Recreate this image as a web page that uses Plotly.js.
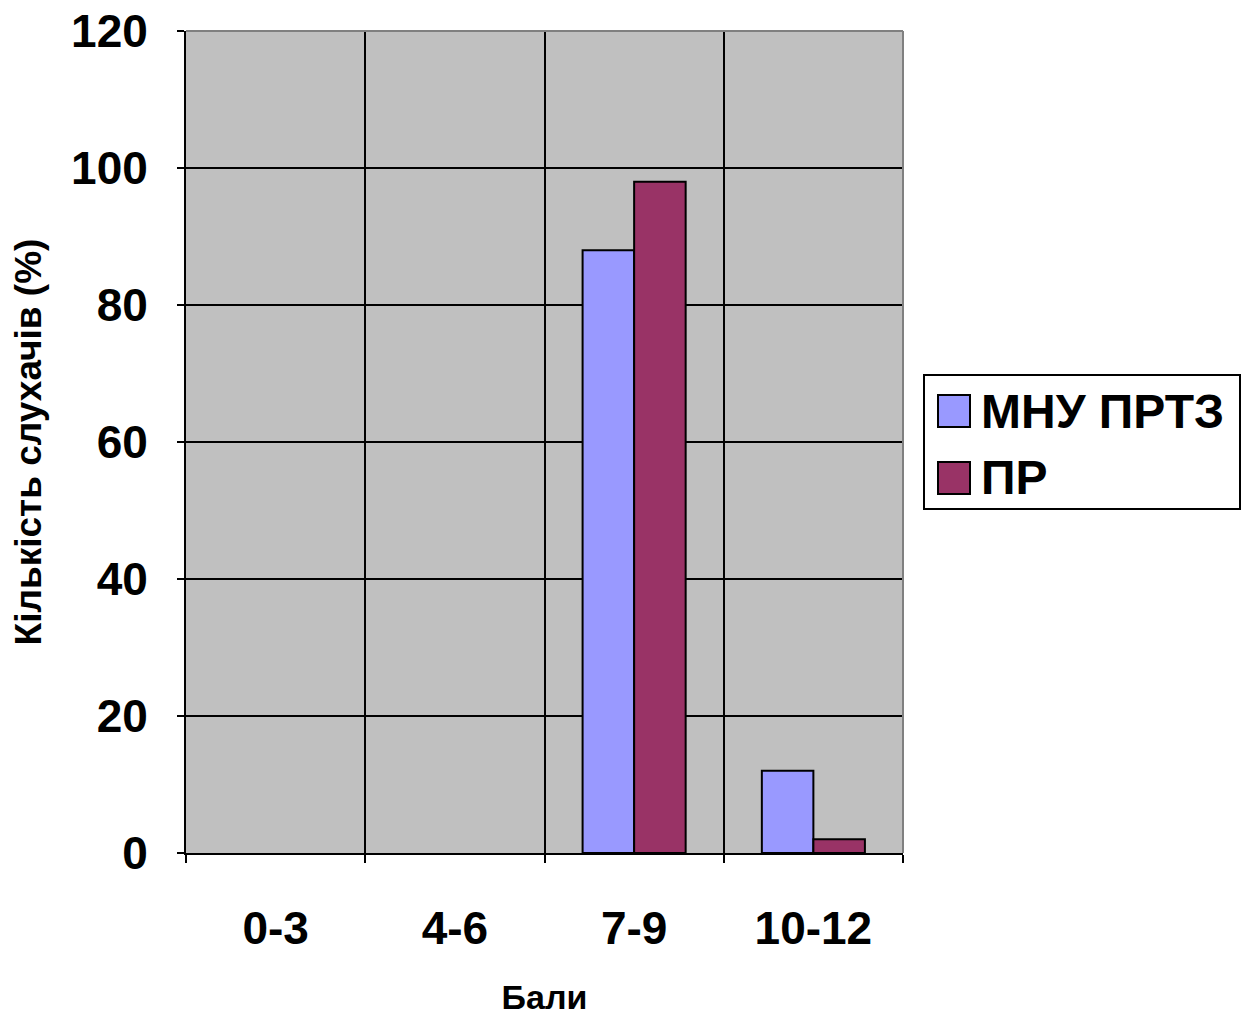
<!DOCTYPE html>
<html>
<head>
<meta charset="utf-8">
<script src="https://cdn.plot.ly/plotly-3.0.1.min.js"></script>
<style>html,body{margin:0;padding:0;background:#fff;}#chart{width:1244px;height:1016px;}</style>
</head>
<body>
<div id="chart"></div>
<script>
const categories = ["0-3", "4-6", "7-9", "10-12"];
const seriesNames = ["МНУ ПРТЗ", "ПР"];
const seriesMNU = [0, 0, 88, 12];
const seriesPR = [0, 0, 98, 2];
const seriesColors = ["#9999FF", "#993366"];
const yTickVals = [0, 20, 40, 60, 80, 100, 120];
const xTitle = "Бали";
const yTitle = "Кількість слухачів (%)";

const W = 1244, H = 1016;
const L = 186, R = 903, T = 31, B = 853;
const px = x => (x - L) / (R - L);
const py = y => (B - y) / (B - T);
const FONT = "Liberation Sans, Arial, sans-serif";

const lineWidths = arr => arr.map(v => (v === 0 ? 0 : 2));

const traces = [
  {type: "bar", name: seriesNames[0], x: categories, y: seriesMNU,
   marker: {color: seriesColors[0], line: {color: "#000", width: lineWidths(seriesMNU)}}},
  {type: "bar", name: seriesNames[1], x: categories, y: seriesPR,
   marker: {color: seriesColors[1], line: {color: "#000", width: lineWidths(seriesPR)}}}
];

const shapes = [
  {type: "line", xref: "paper", yref: "paper", x0: 0, x1: 1, y0: 1, y1: 1, line: {color: "#808080", width: 2}, layer: "above"},
  {type: "line", xref: "paper", yref: "paper", x0: 1, x1: 1, y0: 0, y1: 1, line: {color: "#808080", width: 2}, layer: "above"},
  {type: "rect", xref: "paper", yref: "paper", x0: px(924), x1: px(1240), y0: py(509), y1: py(375), line: {color: "#000", width: 2}, fillcolor: "#fff"},
  {type: "rect", xref: "paper", yref: "paper", x0: px(938), x1: px(970), y0: py(427), y1: py(395), line: {color: "#000", width: 2}, fillcolor: seriesColors[0]},
  {type: "rect", xref: "paper", yref: "paper", x0: px(938), x1: px(970), y0: py(494), y1: py(462), line: {color: "#000", width: 2}, fillcolor: seriesColors[1]}
];

const annotations = [
  {xref: "paper", yref: "paper", x: px(979), y: py(411), xanchor: "left", yanchor: "middle", showarrow: false,
   text: "<b>" + seriesNames[0] + "</b>", font: {family: FONT, size: 48, color: "#000"}},
  {xref: "paper", yref: "paper", x: px(979), y: py(478), xanchor: "left", yanchor: "middle", showarrow: false,
   text: "<b>" + seriesNames[1] + "</b>", font: {family: FONT, size: 48, color: "#000"}}
];

const layout = {
  width: W, height: H,
  margin: {l: L, r: W - R, t: T, b: H - B, pad: 0},
  paper_bgcolor: "#fff",
  plot_bgcolor: "#c0c0c0",
  showlegend: false,
  barmode: "group",
  bargap: 0.425,
  bargroupgap: 0,
  font: {family: FONT, color: "#000"},
  xaxis: {
    type: "category",
    tickson: "boundaries",
    showgrid: true, gridcolor: "#000", gridwidth: 2,
    showline: true, linecolor: "#000", linewidth: 2,
    ticks: "outside", ticklen: 8, tickwidth: 2, tickcolor: "#000",
    tickfont: {family: FONT, size: 46, color: "#000", weight: "bold"},
    ticklabelstandoff: 34,
    title: {text: "<b>" + xTitle + "</b>", font: {family: FONT, size: 34, color: "#000"}, standoff: 40},
    zeroline: false
  },
  yaxis: {
    range: [0, 120],
    tickvals: yTickVals,
    ticktext: yTickVals.map(v => "<b>" + v + "</b>"),
    showgrid: true, gridcolor: "#000", gridwidth: 2,
    showline: true, linecolor: "#000", linewidth: 2,
    ticks: "outside", ticklen: 7, tickwidth: 2, tickcolor: "#000",
    tickfont: {family: FONT, size: 46, color: "#000"},
    ticklabelstandoff: 20,
    title: {text: "<b>" + yTitle + "</b>", font: {family: FONT, size: 37, color: "#000"}, standoff: 18},
    zeroline: false
  },
  shapes: shapes,
  annotations: annotations
};

Plotly.newPlot("chart", traces, layout, {displayModeBar: false, staticPlot: true});
</script>
</body>
</html>
